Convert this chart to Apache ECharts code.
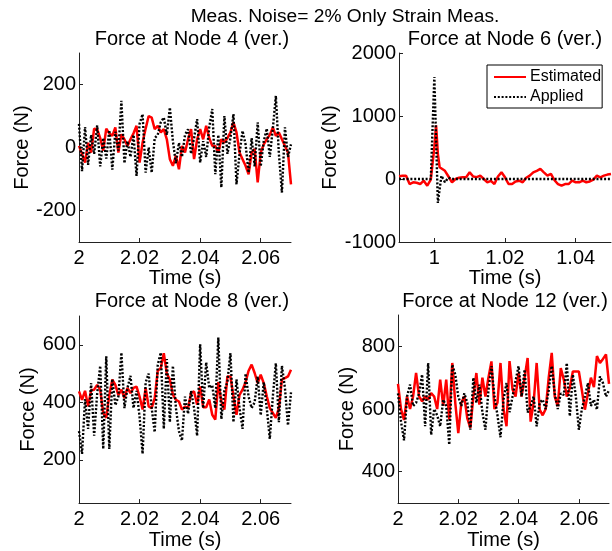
<!DOCTYPE html>
<html><head><meta charset="utf-8">
<script src="https://cdn.jsdelivr.net/npm/echarts@6/dist/echarts.min.js"></script>
<style>html,body{margin:0;padding:0;background:#fff}#c{width:612px;height:551px}</style>
</head><body><div id="c"></div>
<script>
// ---------- data ----------
const suptitle = 'Meas. Noise= 2% Only Strain Meas.';
const panelTitles = ['Force at Node 4 (ver.)', 'Force at Node 6 (ver.)', 'Force at Node 8 (ver.)', 'Force at Node 12 (ver.)'];
const legendNames = ['Estimated', 'Applied'];

const timeA = [2.000,2.001,2.002,2.003,2.004,2.005,2.006,2.007,2.008,2.009,2.010,2.011,2.012,2.013,2.014,2.015,2.016,2.017,2.018,2.019,
  2.020,2.021,2.022,2.023,2.024,2.025,2.026,2.027,2.028,2.029,2.030,2.031,2.032,2.033,2.034,2.035,2.036,2.037,2.038,2.039,
  2.040,2.041,2.042,2.043,2.044,2.045,2.046,2.047,2.048,2.049,2.050,2.051,2.052,2.053,2.054,2.055,2.056,2.057,2.058,2.059,
  2.060,2.061,2.062,2.063,2.064,2.065,2.066,2.067,2.068,2.069,2.070];

const node4Est = [5,-20,-48,15,-16,60,58,30,-10,60,45,37,64,-16,42,26,5,26,45,69,-48,16,60,100,95,58,69,48,58,26,-37,-58,-26,-69,5,-16,26,58,-37,26,58,26,69,30,5,5,-16,26,16,30,48,80,48,-16,-37,-58,-85,-16,-5,-111,-16,10,26,40,64,37,48,26,5,-16,-117];
const node4App = [75,-75,65,-55,40,-20,70,-60,30,-35,55,-70,50,-10,148,-50,20,-30,40,-90,75,106,-80,0,-80,30,40,80,95,40,127,20,-50,15,-30,40,58,-20,30,90,-48,20,-30,64,122,-85,40,-127,100,-20,30,106,-117,-20,53,10,-80,30,-60,80,-60,20,60,-30,60,164,-20,-143,64,-30,10];

const timeN6Est = [0.990,0.991,0.992,0.993,0.994,0.995,0.996,0.997,0.998,0.999,1.000,1.0005,1.001,1.0015,1.002,1.003,1.004,1.005,1.006,1.007,1.008,1.009,
  1.010,1.011,1.012,1.013,1.014,1.015,1.016,1.017,1.018,1.019,1.020,1.021,1.022,1.023,1.024,1.025,1.026,1.027,1.028,1.029,
  1.030,1.031,1.032,1.033,1.034,1.035,1.036,1.037,1.038,1.039,1.040,1.041,1.042,1.043,1.044,1.045,1.046,1.047,1.048,1.049,1.050];
const node6Est = [43,50,53,-80,-53,-60,-80,-27,-106,-10,500,851,400,186,213,130,40,-53,0,20,27,27,
  106,40,30,53,0,-53,-30,-80,40,106,27,-80,-80,-40,-27,-53,20,53,106,130,
  160,106,53,80,-20,-80,-106,-80,-80,-27,-53,-53,-27,-53,-40,-10,53,27,53,70,80];
const timeN6App = [0.990,0.995,0.999,1.000,1.001,1.002,1.003,1.004,1.005,1.020,1.050];
const node6App = [0,0,0,1620,-380,50,-50,20,0,0,0];

const node8Est = [438,409,440,386,442,444,461,444,363,346,425,479,461,425,444,415,450,432,450,455,420,375,450,386,380,415,510,519,571,500,479,427,409,403,375,385,380,432,438,392,455,383,383,410,357,340,470,403,375,490,490,421,357,426,444,470,510,531,502,467,496,467,421,380,363,346,380,479,484,490,513];
const node8App = [300,221,411,308,467,284,430,527,238,560,238,481,390,420,573,380,450,492,380,440,350,221,469,500,380,296,530,573,308,550,331,527,380,300,267,420,360,440,380,284,602,380,539,450,460,380,625,342,440,471,571,331,480,380,308,500,420,380,400,490,355,470,380,273,420,536,331,527,450,320,435];

const node12Est = [680,600,565,640,600,640,715,640,625,640,630,651,640,600,694,610,694,566,747,620,523,620,640,570,540,640,715,614,700,640,700,752,600,620,747,600,545,753,662,640,715,640,700,763,560,620,747,598,580,600,700,779,640,609,731,694,640,667,720,720,720,660,598,650,700,670,769,747,760,774,680];
const node12App = [650,560,500,640,678,610,620,650,710,545,747,518,600,580,545,630,610,486,742,710,640,610,650,620,534,700,620,678,590,534,660,737,640,580,510,630,683,590,640,690,737,640,726,589,610,640,545,620,630,600,660,737,650,600,650,645,747,577,710,640,534,600,640,683,610,630,598,704,683,640,660];

const xTicksA = [2, 2.02, 2.04, 2.06];
const xTicksB = [1, 1.02, 1.04];
const yTicks = [[-200, 0, 200], [-1000, 0, 1000, 2000], [200, 400, 600], [400, 600, 800]];
const xRange = [[2, 2.07], [0.99, 1.05], [2, 2.07], [2, 2.07]];
const yRange = [[-300, 300], [-1000, 2000], [50, 700], [300, 900]];
const xName = 'Time (s)';
const yName = 'Force (N)';

// ---------- chart ----------
const FONT = 'Liberation Sans, Arial, Helvetica, sans-serif';
const zip = (t, v) => t.map((x, i) => [x, v[i]]);
const grids = [
  {left: 79, top: 53, width: 212, height: 189},
  {left: 399, top: 53, width: 212, height: 189},
  {left: 79, top: 316, width: 212, height: 188},
  {left: 398, top: 315, width: 211, height: 189}
];
const fmt = v => String(+(+v).toFixed(2));
const xTicks = [xTicksA, xTicksB, xTicksA, xTicksA];
const xAxes = grids.map((g, i) => ({
  type: 'value', gridIndex: i, min: xRange[i][0], max: xRange[i][1],
  name: xName, nameLocation: 'middle', nameGap: 21,
  nameTextStyle: {fontSize: 20, color: '#000', fontFamily: FONT, verticalAlign: 'top'},
  axisLine: {onZero: false, lineStyle: {color: '#222', width: 1}},
  axisTick: {inside: true, length: 4, customValues: xTicks[i], lineStyle: {color: '#222'}},
  axisLabel: {customValues: xTicks[i], fontSize: 20, color: '#000', fontFamily: FONT, margin: 6, formatter: fmt},
  splitLine: {show: false}
}));
const yAxes = grids.map((g, i) => ({
  type: 'value', gridIndex: i, min: yRange[i][0], max: yRange[i][1],
  name: yName, nameLocation: 'middle', nameGap: 38,
  nameTextStyle: {fontSize: 20, color: '#000', fontFamily: FONT},
  axisLine: {onZero: false, lineStyle: {color: '#222', width: 1}},
  axisTick: {inside: true, length: 4, customValues: yTicks[i], lineStyle: {color: '#222'}},
  axisLabel: {customValues: yTicks[i], fontSize: 20, color: '#000', fontFamily: FONT, margin: 3, formatter: v => String(v)},
  splitLine: {show: false}
}));

const estStyle = {color: '#ff0000', width: 2.5, type: 'solid'};
const appStyle = {color: '#000000', width: 2.4, type: [2, 1.8]};
const mk = (name, i, data, style) => ({
  name, type: 'line', xAxisIndex: i, yAxisIndex: i, data,
  showSymbol: false, symbol: 'none', clip: true, lineStyle: style,
  itemStyle: {color: style.color}, silent: true
});
const series = [
  mk(legendNames[0], 0, zip(timeA, node4Est), estStyle),
  mk(legendNames[1], 0, zip(timeA, node4App), appStyle),
  mk(legendNames[0], 1, zip(timeN6Est, node6Est), estStyle),
  mk(legendNames[1], 1, zip(timeN6App, node6App), appStyle),
  mk(legendNames[0], 2, zip(timeA, node8Est), estStyle),
  mk(legendNames[1], 2, zip(timeA, node8App), appStyle),
  mk(legendNames[0], 3, zip(timeA, node12Est), estStyle),
  mk(legendNames[1], 3, zip(timeA, node12App), appStyle)
];

const titleStyle = {fontSize: 20, fontWeight: 'normal', color: '#000', fontFamily: FONT};
const supStyle = Object.assign({}, titleStyle, {fontSize: 19.2});
const titles = [
  {text: suptitle, left: 345, top: 7, textAlign: 'center', padding: 0, textStyle: supStyle},
  {text: panelTitles[0], left: 192, top: 29, textAlign: 'center', padding: 0, textStyle: titleStyle},
  {text: panelTitles[1], left: 505, top: 29, textAlign: 'center', padding: 0, textStyle: titleStyle},
  {text: panelTitles[2], left: 192, top: 291, textAlign: 'center', padding: 0, textStyle: titleStyle},
  {text: panelTitles[3], left: 505, top: 291, textAlign: 'center', padding: 0, textStyle: titleStyle}
];

const chart = echarts.init(document.getElementById('c'), null, {renderer: 'canvas'});
chart.setOption({
  animation: false,
  backgroundColor: '#fff',
  title: titles,
  grid: grids,
  xAxis: xAxes,
  yAxis: yAxes,
  legend: {
    data: legendNames, orient: 'vertical', left: 487, top: 65,
    padding: [4, 1, 3, 6], itemGap: 4, itemWidth: 32, itemHeight: 16,
    borderColor: '#000', borderWidth: 1, backgroundColor: '#fff',
    itemStyle: {opacity: 0},
    textStyle: {fontSize: 16, color: '#000', fontFamily: FONT, padding: [0, 0, 0, -1]},
    selectedMode: false
  },
  series
});
</script></body></html>
